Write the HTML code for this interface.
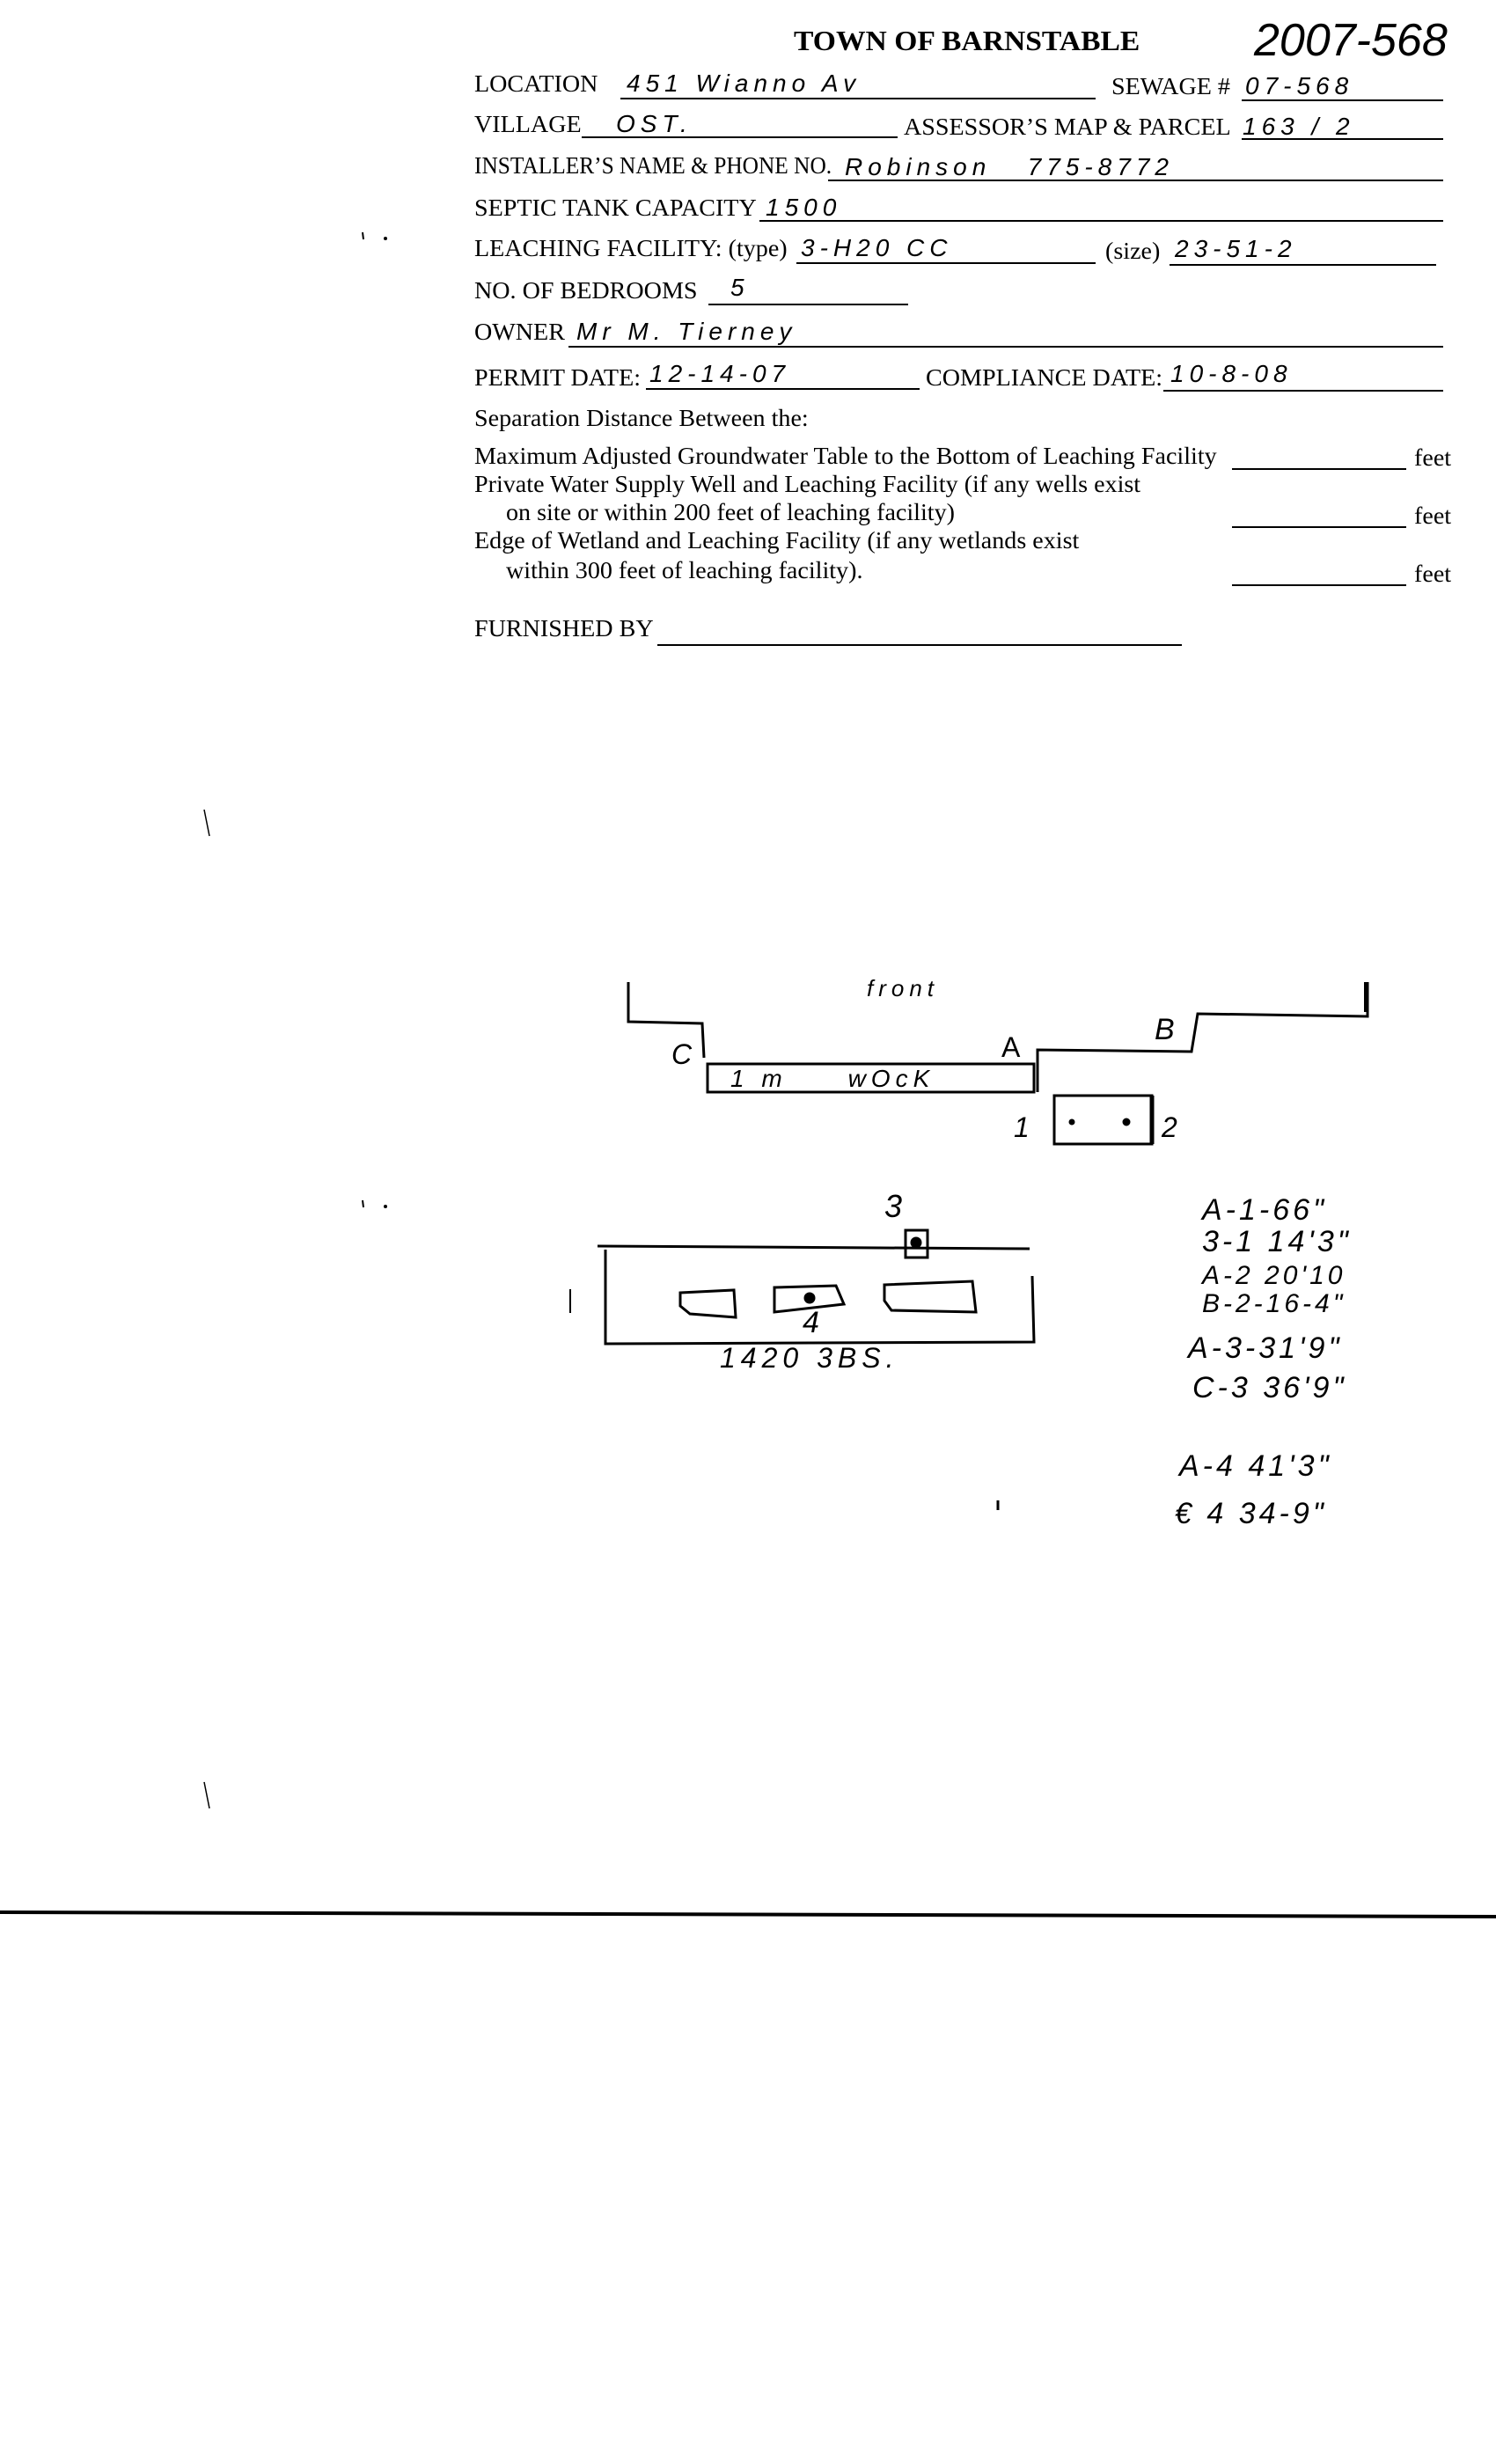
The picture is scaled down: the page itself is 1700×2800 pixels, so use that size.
<!DOCTYPE html>
<html><head><meta charset="utf-8"><style>
body{margin:0;background:#fff;}
#p{position:relative;width:1700px;height:2800px;background:#fff;overflow:hidden;font-family:"Liberation Serif",serif;color:#000;}
.t{position:absolute;font-size:27px;line-height:30px;white-space:nowrap;transform-origin:0 50%;transform:scaleX(1.04);}
.h{position:absolute;font-family:"Liberation Sans",sans-serif;font-style:italic;font-size:28px;line-height:30px;white-space:nowrap;letter-spacing:6px;}
.l{position:absolute;height:2px;background:#000;}
svg{position:absolute;left:0;top:0;}
</style></head><body><div id="p">
<div class="t" style="left:902px;top:28px;font-weight:bold;font-size:32px;line-height:36px;transform:scaleX(1.05)">TOWN OF BARNSTABLE</div>
<div class="h" style="left:1425px;top:18px;font-size:52px;line-height:56px;letter-spacing:0;font-style:italic">2007-568</div>

<div class="t" style="left:539px;top:80px">LOCATION</div>
<div class="h" style="left:712px;top:80px">451 Wianno Av</div>
<div class="l" style="left:705px;top:111px;width:540px"></div>
<div class="t" style="left:1263px;top:83px">SEWAGE #</div>
<div class="h" style="left:1415px;top:83px">07-568</div>
<div class="l" style="left:1411px;top:113px;width:229px"></div>

<div class="t" style="left:539px;top:126px">VILLAGE</div>
<div class="h" style="left:700px;top:126px">OST.</div>
<div class="l" style="left:661px;top:155px;width:359px"></div>
<div class="t" style="left:1027px;top:129px">ASSESSOR’S MAP &amp; PARCEL</div>
<div class="h" style="left:1412px;top:129px">163 / 2</div>
<div class="l" style="left:1411px;top:157px;width:229px"></div>

<div class="t" style="left:539px;top:173px;transform:scaleX(0.94)">INSTALLER’S NAME &amp; PHONE NO.</div>
<div class="h" style="left:960px;top:175px">Robinson &nbsp; 775-8772</div>
<div class="l" style="left:941px;top:204px;width:699px"></div>

<div class="t" style="left:539px;top:221px">SEPTIC TANK CAPACITY</div>
<div class="h" style="left:870px;top:221px">1500</div>
<div class="l" style="left:863px;top:250px;width:777px"></div>

<div class="t" style="left:539px;top:267px">LEACHING FACILITY: (type)</div>
<div class="h" style="left:910px;top:267px">3-H20 CC</div>
<div class="l" style="left:905px;top:298px;width:340px"></div>
<div class="t" style="left:1256px;top:270px">(size)</div>
<div class="h" style="left:1335px;top:268px">23-51-2</div>
<div class="l" style="left:1329px;top:300px;width:303px"></div>

<div class="t" style="left:539px;top:315px">NO. OF BEDROOMS</div>
<div class="h" style="left:830px;top:312px">5</div>
<div class="l" style="left:805px;top:345px;width:227px"></div>

<div class="t" style="left:539px;top:362px">OWNER</div>
<div class="h" style="left:655px;top:362px">Mr M. Tierney</div>
<div class="l" style="left:646px;top:393px;width:994px"></div>

<div class="t" style="left:539px;top:414px">PERMIT DATE:</div>
<div class="h" style="left:738px;top:410px">12-14-07</div>
<div class="l" style="left:734px;top:441px;width:311px"></div>
<div class="t" style="left:1052px;top:414px">COMPLIANCE DATE:</div>
<div class="h" style="left:1330px;top:410px">10-8-08</div>
<div class="l" style="left:1322px;top:443px;width:318px"></div>

<div class="t" style="left:539px;top:460px">Separation Distance Between the:</div>
<div class="t" style="left:539px;top:503px">Maximum Adjusted Groundwater Table to the Bottom of Leaching Facility</div>
<div class="l" style="left:1400px;top:532px;width:198px"></div>
<div class="t" style="left:1607px;top:505px">feet</div>
<div class="t" style="left:539px;top:535px">Private Water Supply Well and Leaching Facility (if any wells exist</div>
<div class="t" style="left:575px;top:567px">on site or within 200 feet of leaching facility)</div>
<div class="l" style="left:1400px;top:598px;width:198px"></div>
<div class="t" style="left:1607px;top:571px">feet</div>
<div class="t" style="left:539px;top:599px">Edge of Wetland and Leaching Facility (if any wetlands exist</div>
<div class="t" style="left:575px;top:633px">within 300 feet of leaching facility).</div>
<div class="l" style="left:1400px;top:664px;width:198px"></div>
<div class="t" style="left:1607px;top:637px">feet</div>
<div class="t" style="left:539px;top:699px">FURNISHED BY</div>
<div class="l" style="left:747px;top:732px;width:596px"></div>

<svg width="1700" height="2800" viewBox="0 0 1700 2800" fill="none" stroke="#000" stroke-width="3">
<polyline points="714,1116 714,1161 798,1163 800,1202"/>
<rect x="804" y="1209" width="371" height="32"/>
<polyline points="1179,1241 1179,1193 1354,1195 1361,1152 1554,1155 1554,1116"/>
<line x1="1552" y1="1116" x2="1552" y2="1150" stroke-width="4"/>
<rect x="1198" y="1245" width="111" height="55"/>
<line x1="1309" y1="1245" x2="1309" y2="1300" stroke-width="5"/>
<circle cx="1218" cy="1275" r="2" fill="#000"/>
<circle cx="1280" cy="1275" r="3" fill="#000"/>
<line x1="679" y1="1416" x2="1170" y2="1419"/>
<polyline points="688,1420 688,1527 1175,1525 1173,1450"/>
<rect x="1029" y="1398" width="25" height="31"/>
<circle cx="1041" cy="1412" r="5" fill="#000"/>
<path d="M773,1469 L834,1466 L836,1497 L784,1493 L773,1484 Z"/>
<path d="M880,1463 L950,1461 L959,1482 L880,1491 Z"/>
<circle cx="920" cy="1475" r="5" fill="#000"/>
<path d="M1005,1460 L1105,1456 L1109,1491 L1013,1489 L1005,1478 Z"/>
<line x1="648" y1="1465" x2="648" y2="1492" stroke-width="2"/>
<line x1="0" y1="2173" x2="1700" y2="2178" stroke-width="4"/>
<line x1="232" y1="920" x2="238" y2="950" stroke-width="1.5"/>
<line x1="232" y1="2025" x2="238" y2="2055" stroke-width="1.5"/>
<line x1="1134" y1="1705" x2="1134" y2="1716" stroke-width="3"/>
<line x1="412" y1="264" x2="413" y2="272" stroke-width="2"/>
<circle cx="438" cy="271" r="2" fill="#000" stroke="none"/>
<line x1="412" y1="1364" x2="413" y2="1372" stroke-width="2"/>
<circle cx="438" cy="1371" r="2" fill="#000" stroke="none"/>
</svg>
<div class="h" style="left:985px;top:1108px;font-size:26px">front</div>
<div class="h" style="left:763px;top:1183px;font-size:32px">C</div>
<div class="h" style="left:1138px;top:1175px;font-size:32px;font-style:normal">A</div>
<div class="h" style="left:1312px;top:1155px;font-size:34px">B</div>
<div class="h" style="left:830px;top:1211px;font-size:28px">1 m &nbsp; &nbsp; wOcK</div>
<div class="h" style="left:1152px;top:1266px;font-size:32px">1</div>
<div class="h" style="left:1320px;top:1266px;font-size:32px">2</div>
<div class="h" style="left:1005px;top:1356px;font-size:36px">3</div>
<div class="h" style="left:912px;top:1488px;font-size:34px">4</div>
<div class="h" style="left:818px;top:1528px;font-size:32px">1420 3BS.</div>
<div class="h" style="left:1366px;top:1355px;font-size:34px;line-height:40px;letter-spacing:4px">A-1-66"</div>
<div class="h" style="left:1366px;top:1391px;font-size:34px;line-height:40px;letter-spacing:4px">3-1 14'3"</div>
<div class="h" style="left:1366px;top:1432px;font-size:30px;line-height:36px;letter-spacing:4px">A-2 20'10</div>
<div class="h" style="left:1366px;top:1464px;font-size:30px;line-height:36px;letter-spacing:4px">B-2-16-4"</div>
<div class="h" style="left:1350px;top:1512px;font-size:34px;line-height:40px;letter-spacing:4px">A-3-31'9"</div>
<div class="h" style="left:1355px;top:1557px;font-size:34px;line-height:40px;letter-spacing:4px">C-3 36'9"</div>
<div class="h" style="left:1340px;top:1646px;font-size:34px;line-height:40px;letter-spacing:4px">A-4 41'3"</div>
<div class="h" style="left:1335px;top:1700px;font-size:34px;line-height:40px;letter-spacing:4px">€ 4 34-9"</div>
</div></body></html>
